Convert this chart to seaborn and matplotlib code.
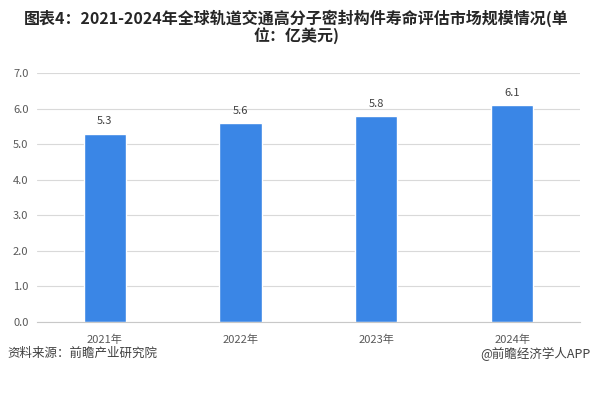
import matplotlib.pyplot as plt
import seaborn as sns
import pandas as pd

years = ["2021年", "2022年", "2023年", "2024年"]
values = [5.3, 5.6, 5.8, 6.1]
yticks = [0.0, 1.0, 2.0, 3.0, 4.0, 5.0, 6.0, 7.0]

sns.set_style("white")
plt.rcParams['font.family'] = ['Noto Sans CJK SC', 'DejaVu Sans']

df = pd.DataFrame({"year": years, "value": values})

fig = plt.figure(figsize=(5.93, 3.93), dpi=100)
ax = fig.add_axes([0.062, 0.181, 0.916, 0.633])

sns.barplot(data=df, x="year", y="value", color="#3a86e6", width=0.31,
            saturation=1, ax=ax)

ax.set_ylim(0, 7)
ax.set_yticks(yticks)
ax.set_yticklabels([f"{t:.1f}" for t in yticks])
ax.set_xlim(-0.5, 3.5)
ax.grid(axis="y", color="#d9d9d9", linewidth=0.8)
ax.set_axisbelow(True)
for s in ["top", "left", "right"]:
    ax.spines[s].set_visible(False)
ax.spines["bottom"].set_color("#c8c8c8")
ax.tick_params(axis="both", length=0, labelsize=8, colors="#595959", pad=6)
ax.tick_params(axis="x", pad=9)
ax.set_xlabel("")
ax.set_ylabel("")

for i, v in enumerate(values):
    ax.text(i, v + 0.2, f"{v:.1f}", ha="center", va="bottom", fontsize=8, color="#404040")

fig.text(0.5, 0.975, "图表4：2021-2024年全球轨道交通高分子密封构件寿命评估市场规模情况(单\n位：亿美元)",
         ha="center", va="top", fontsize=11.5, fontweight="bold", color="#262626", linespacing=1.0)
fig.text(0.012, 0.1, "资料来源：前瞻产业研究院", ha="left", va="center", fontsize=9, color="#404040")
fig.text(0.995, 0.1, "@前瞻经济学人APP", ha="right", va="center", fontsize=9, color="#404040")

fig.savefig("out.png", dpi=100)
